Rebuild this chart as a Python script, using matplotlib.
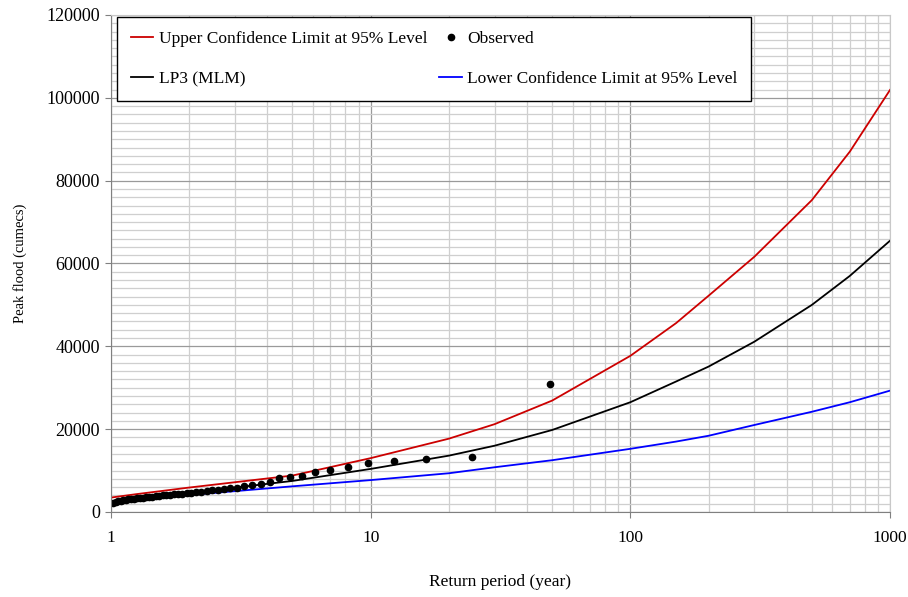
"""Flood frequency plot: LP3 (MLM) fit with 95% confidence limits and observed peaks."""

import matplotlib
matplotlib.use("Agg")
import matplotlib.pyplot as plt
from matplotlib.ticker import FixedLocator, LogLocator, NullFormatter, FuncFormatter

plt.rcParams["font.family"] = ["Liberation Serif", "DejaVu Serif"]

# fitted curves (return period in years, flow in cumecs)
curve_T = [1.005, 1.25, 2, 5, 10, 20, 30, 50, 100, 150, 200, 300, 500, 700, 1000]
lp3 = [2200, 3200, 4600, 7500, 10400, 13600, 16000, 19800, 26500, 31500, 35100, 41100, 50000, 57000, 65500]
upper_cl = [3500, 4300, 5900, 8800, 13000, 17700, 21200, 26900, 37700, 45600, 52200, 61600, 75300, 87000, 101900]
lower_cl = [2400, 2950, 4100, 6200, 7700, 9350, 10800, 12500, 15250, 17000, 18400, 21000, 24200, 26500, 29300]

# observed annual peaks, largest first (Weibull plotting position, n = 48)
obs_rank = list(range(1, 49))
obs_flow = [
    31000, 13200, 12800, 12300, 11900, 10800, 10100, 9700, 8800, 8400,
    8200, 7300, 6800, 6500, 6300, 5800, 5700, 5500, 5400, 5200,
    5100, 4900, 4750, 4650, 4550, 4450, 4380, 4300, 4200, 4100,
    4000, 3900, 3800, 3700, 3600, 3500, 3450, 3350, 3300, 3200,
    3100, 3050, 2950, 2850, 2750, 2600, 2450, 2100,
]
obs_T = [(len(obs_rank) + 1) / m for m in obs_rank]

fig = plt.figure(figsize=(9.08, 5.97), dpi=100)
ax = fig.add_axes([0.1222, 0.1424, 0.858, 0.8325])

h_up, = ax.plot(curve_T, upper_cl, color="#cc0000", lw=1.3, label="Upper Confidence Limit at 95% Level")
h_lp3, = ax.plot(curve_T, lp3, color="black", lw=1.3, label="LP3 (MLM)")
h_lo, = ax.plot(curve_T, lower_cl, color="#0000ff", lw=1.3, label="Lower Confidence Limit at 95% Level")
h_obs, = ax.plot(obs_T, obs_flow, "o", color="black", ms=4.5, ls="none", label="Observed")

ax.set_xscale("log")
ax.set_xlim(1, 1000)
ax.set_ylim(0, 120000)

ax.xaxis.set_major_locator(LogLocator(base=10))
ax.xaxis.set_minor_locator(LogLocator(base=10, subs=range(2, 10)))
ax.xaxis.set_major_formatter(FuncFormatter(lambda v, p: f"{v:g}"))
ax.xaxis.set_minor_formatter(NullFormatter())
ax.yaxis.set_major_locator(FixedLocator(range(0, 120001, 20000)))
ax.yaxis.set_minor_locator(FixedLocator(range(0, 120001, 2000)))

ax.grid(True, which="minor", color="#cfcfcf", lw=0.9)
ax.grid(True, which="major", color="#9a9a9a", lw=0.9)
ax.set_axisbelow(True)

for side in ["left", "bottom"]:
    ax.spines[side].set_color("#808080")
for side in ["top", "right"]:
    ax.spines[side].set_color("#c8c8c8")

ax.tick_params(which="major", direction="out", length=4, color="#808080")
ax.tick_params(axis="y", which="major", labelsize=13, pad=4)
ax.tick_params(axis="x", which="major", labelsize=12.5, pad=9)
ax.tick_params(which="minor", length=0)

ax.set_xlabel("Return period (year)", fontsize=12.5, labelpad=20)
ax.set_ylabel("Peak flood (cumecs)", fontsize=10.5, labelpad=14)

leg = ax.legend(
    handles=[h_up, h_lp3, h_obs, h_lo],
    ncol=2,
    loc="upper left",
    bbox_to_anchor=(0.0077, 0.996),
    borderaxespad=0,
    fontsize=12.5,
    frameon=True,
    fancybox=False,
    shadow=False,
    labelspacing=1.4,
    handlelength=1.3,
    handletextpad=0.3,
    columnspacing=0.7,
    borderpad=0.8,
)
leg.get_frame().set_edgecolor("black")
leg.get_frame().set_linewidth(1.0)
leg.get_frame().set_alpha(1)

fig.savefig("out.png", dpi=100)
